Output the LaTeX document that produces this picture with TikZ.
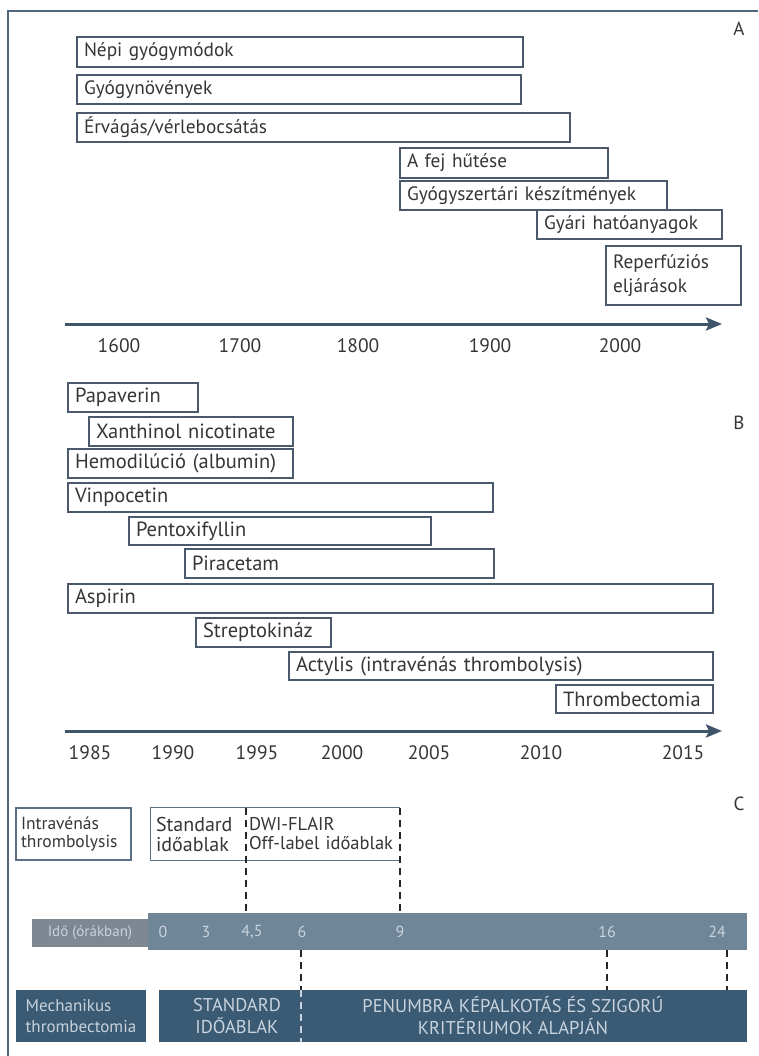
\documentclass[tikz,border=0pt]{standalone}
\usepackage{fontspec}
\setmainfont{PT Sans}
\usetikzlibrary{arrows.meta}

\definecolor{ink}{HTML}{363636}
\definecolor{edge}{HTML}{4A5A6C}
\definecolor{axisc}{HTML}{3E5468}
\definecolor{framec}{HTML}{50667C}
\definecolor{barc}{HTML}{6F8698}
\definecolor{labc}{HTML}{7D8893}
\definecolor{darkc}{HTML}{3B5A73}
\definecolor{pale}{HTML}{C8D3DD}
\definecolor{boxc}{HTML}{5C7188}

\newcommand\boxpad{7}
% span box: name, x1, y1, x2, y2, text
\newcommand\spanbox[6]{%
  \pgfmathsetmacro\bh{#5-#3}%
  \pgfmathsetmacro\tw{#4-#2-2*\boxpad}%
  \node[span, minimum height=\bh pt, text width=\tw pt] (#1) at ({(#2+#4)/2},{(#3+#5)/2}) {#6};}

\begin{document}
\begin{tikzpicture}[x=1pt,y=-1pt,
  span/.style={draw=edge, line width=1.1pt, inner xsep=\boxpad pt, inner ysep=0pt,
    text=ink, align=left, font=\fontsize{19.3}{24}\selectfont},
  year/.style={text=ink, font=\fontsize{19.5}{22}\selectfont, inner sep=0pt},
  panel/.style={text=ink, font=\fontsize{19}{22}\selectfont, inner sep=0pt},
  axisarrow/.style={draw=axisc, line width=3pt, -{Stealth[length=16pt,width=13pt,inset=3pt]}},
  frame/.style={draw=framec, line width=1.4pt},
  cbox/.style={inner sep=0pt, text=ink, align=left},
  edgeline/.style={draw=boxc, line width=1.1pt},
  blackdash/.style={draw=black!85, line width=2.4pt, dash pattern=on 7pt off 5pt},
  paledash/.style={draw=pale, line width=1.6pt, dash pattern=on 7pt off 5pt},
  hour/.style={text=pale, font=\fontsize{16}{18}\selectfont, inner sep=0pt},
  darkbox/.style={fill=darkc, inner sep=0pt},
  darktext/.style={text=pale, align=center, inner sep=0pt, font=\fontsize{18.5}{22}\selectfont}
]
\useasboundingbox (0,0) rectangle (758,1056);
\fill[white] (0,0) rectangle (758,1056);

% outer frame (top and left rules)
\coordinate (fbl) at (8,1056);
\coordinate (ftl) at (8,11);
\coordinate (ftr) at (758,11);
\draw[frame] (fbl) -- (ftl) -- (ftr);

% ---------------- panel A ----------------
\node[panel] (pA) at (739,29) {A};
\spanbox{nepi}{77}{37}{523}{67}{Népi gyógymódok}
\spanbox{gyogy}{77}{75}{521}{104}{Gyógynövények}
\spanbox{erv}{77}{113}{570}{142}{Érvágás/vérlebocsátás}
\spanbox{fej}{400}{148}{608}{178}{A fej hűtése}
\spanbox{patika}{400}{181}{667}{210}{Gyógyszertári készítmények}
\spanbox{gyari}{537}{210}{722}{239}{Gyári hatóanyagok}
\spanbox{reperf}{606}{246}{741}{305}{Reperfúziós\\eljárások}

\coordinate (aS) at (65,324);
\coordinate (aE) at (722,324);
\draw[axisarrow] (aS) -- (aE);
\node[year] (y1600) at (119,346) {1600};
\node[year] (y1700) at (240,346) {1700};
\node[year] (y1800) at (358,346) {1800};
\node[year] (y1900) at (490,346) {1900};
\node[year] (y2000) at (620,346) {2000};

% ---------------- panel B ----------------
\node[panel] (pB) at (739,423) {B};
\begin{scope}[span/.append style={font=\fontsize{20.5}{24}\selectfont}]
\spanbox{papa}{68}{383}{198}{412}{Papaverin}
\spanbox{xant}{89}{417}{293}{446}{Xanthinol nicotinate}
\spanbox{hemo}{68}{449}{293}{478}{Hemodilúció (albumin)}
\spanbox{vinp}{68}{483}{493}{512}{Vinpocetin}
\spanbox{pent}{129}{517}{431}{545}{Pentoxifyllin}
\spanbox{pira}{185}{549}{494}{578}{Piracetam}
\spanbox{aspi}{68}{584}{713}{613}{Aspirin}
\spanbox{strep}{196}{618}{331}{647}{Streptokináz}
\spanbox{acty}{289}{652}{713}{680}{Actylis (intravénás thrombolysis)}
\spanbox{thromb}{556}{685}{713}{713}{Thrombectomia}
\end{scope}

\coordinate (bS) at (65,731);
\coordinate (bE) at (722,731);
\draw[axisarrow] (bS) -- (bE);
\node[year] (y1985) at (90,753) {1985};
\node[year] (y1990) at (173,753) {1990};
\node[year] (y1995) at (257,753) {1995};
\node[year] (y2000b) at (342,753) {2000};
\node[year] (y2005) at (429,753) {2005};
\node[year] (y2010) at (541,753) {2010};
\node[year] (y2015) at (683,753) {2015};

% ---------------- panel C ----------------
\node[panel] (pC) at (739,804) {C};

% thrombolysis windows
\node[cbox, draw=boxc, line width=1.1pt, minimum width=115pt, minimum height=52pt,
  inner xsep=5pt, text width=105pt, font=\fontsize{17.5}{18}\selectfont] (ivt) at (73.5,834) {Intravénás\\thrombolysis};
\node[cbox, minimum width=95pt, minimum height=52pt, inner xsep=5pt, text width=85pt,
  font=\fontsize{20}{20}\selectfont] (stdw) at (198.5,834) {Standard\\időablak};
\node[cbox, minimum width=154pt, minimum height=52pt, inner xsep=3pt, text width=148pt,
  font=\fontsize{18.5}{19}\selectfont] (dwi) at (323,834) {DWI-FLAIR\\Off-label időablak};
\draw[edgeline] (dwi.north east) -- (stdw.north west) -- (stdw.south west) -- (dwi.south east);

% time bar
\node[fill=barc, minimum width=599pt, minimum height=37pt, inner sep=0pt] (tbar) at (447.5,931.5) {};
\node[fill=labc, minimum width=116pt, minimum height=28pt, inner sep=0pt, text=pale,
  font=\fontsize{15}{17}\selectfont] (tlab) at (90,933) {Idő (órákban)};
\node[hour] (h0) at (163,932) {0};
\node[hour] (h3) at (206,932) {3};
\node[hour] (h45) at (252,932) {4,5};
\node[hour] (h6) at (302,932) {6};
\node[hour] (h9) at (400,932) {9};
\node[hour] (h16) at (607,932) {16};
\node[hour] (h24) at (717,932) {24};

\draw[blackdash] (stdw.north east) -- (stdw.north east |- tbar.north);
\draw[blackdash] (dwi.north east) -- (dwi.north east |- tbar.north);

% mechanical thrombectomy windows
\node[darkbox, minimum width=130pt, minimum height=52pt] (mech) at (81,1016) {};
\node[darktext, align=left, font=\fontsize{17}{21}\selectfont] (mechtxt) at (mech.center) {Mechanikus\\thrombectomia};
\node[darkbox, minimum width=588pt, minimum height=52pt] (mtw) at (453,1016) {};
\node[darktext] (stdtxt) at (237,1016) {STANDARD\\IDŐABLAK};
\node[darktext] (pentxt) at (513,1016) {PENUMBRA KÉPALKOTÁS ÉS SZIGORÚ\\KRITÉRIUMOK ALAPJÁN};

\coordinate (d6) at (301,950);
\coordinate (d16) at (607,950);
\coordinate (d24) at (727,950);
\draw[blackdash] (d6) -- (d6 |- mtw.north);
\draw[paledash] (d6 |- mtw.north) -- (d6 |- mtw.south);
\draw[blackdash] (d16) -- (d16 |- mtw.north);
\draw[blackdash] (d24) -- (d24 |- mtw.north);
\end{tikzpicture}
\end{document}
